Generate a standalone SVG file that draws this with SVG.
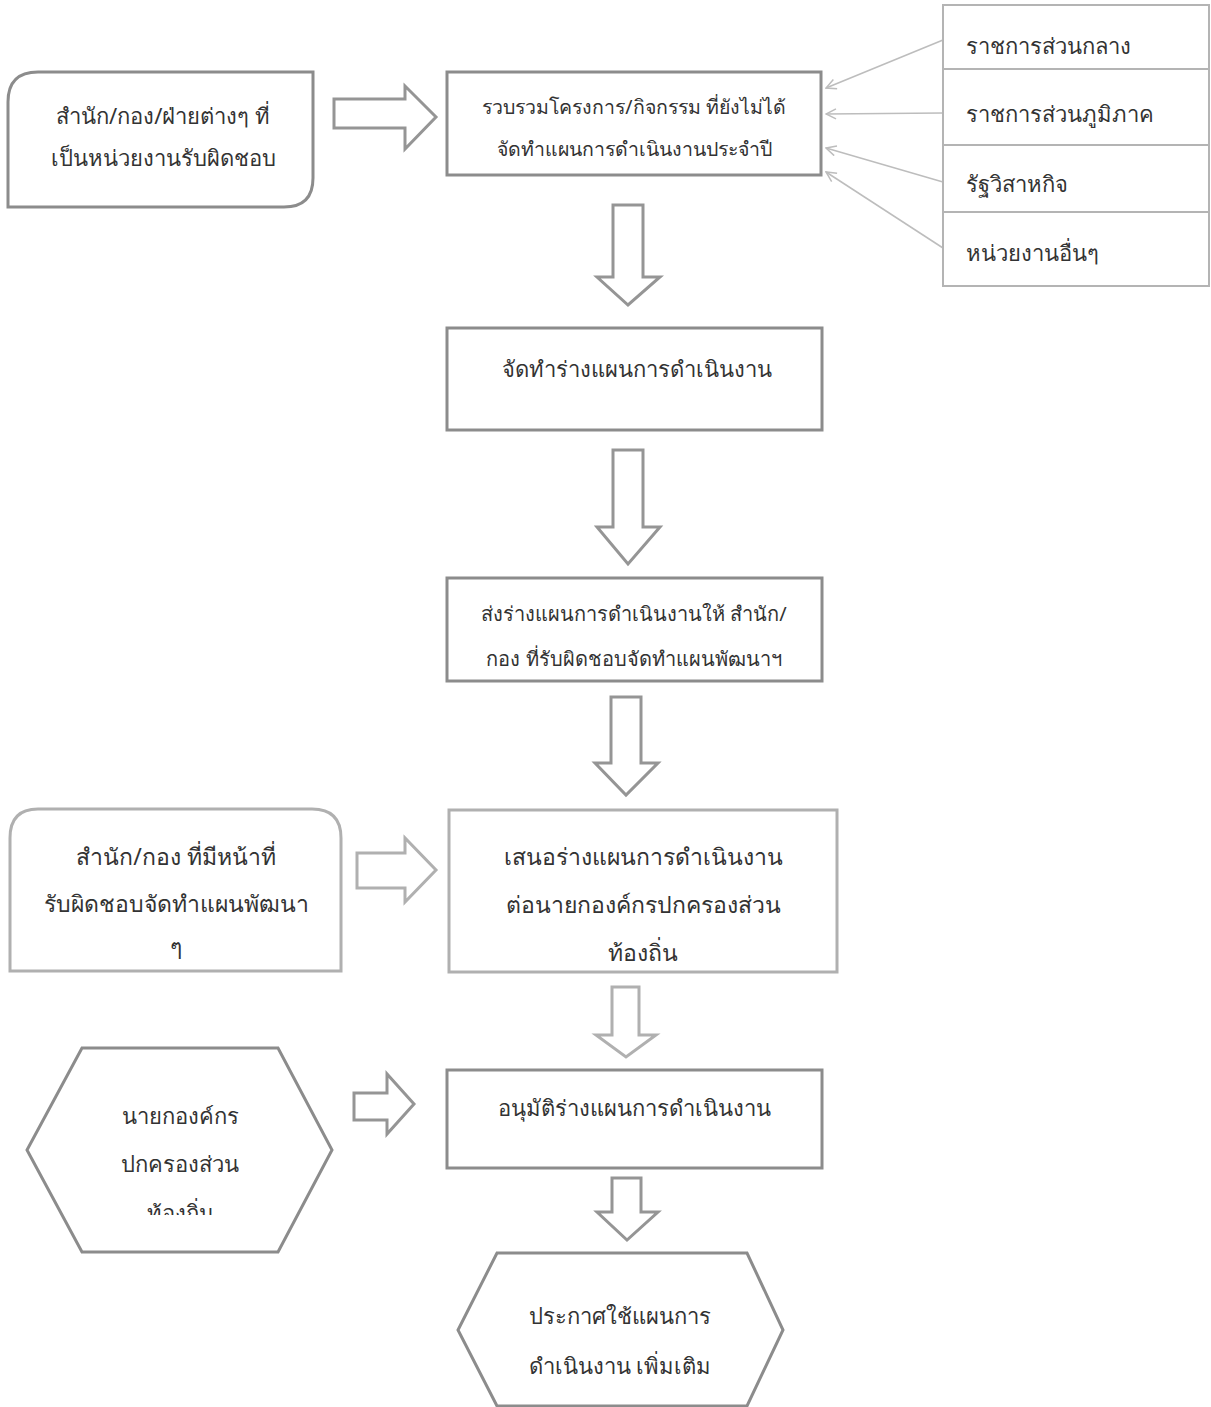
<svg xmlns="http://www.w3.org/2000/svg" width="1211" height="1407" viewBox="0 0 1211 1407">
<style>
.box{fill:#fff;stroke:#8c8c8c;stroke-width:3}
.lst{fill:#fff;stroke:#b4b4b4;stroke-width:2}
.arw{fill:#fff;stroke:#959595;stroke-width:3;stroke-linejoin:miter}
.arwl{fill:#fff;stroke:#b0b0b0;stroke-width:3}
.con{fill:none;stroke:#bdbdbd;stroke-width:1.5}
text{font-family:"Noto Sans","DejaVu Sans",sans-serif;fill:#333;text-anchor:middle}
.t22{font-size:22px}
.t23{font-size:23px}
.t20{font-size:20px}
.t19{font-size:19.5px}
.tl{text-anchor:start}
</style>
<defs>
<marker id="ah" viewBox="0 0 12 12" refX="11" refY="6" markerWidth="12" markerHeight="12" markerUnits="userSpaceOnUse" orient="auto">
<path d="M1,1 L11,6 L1,11" fill="none" stroke="#bdbdbd" stroke-width="1.5"/>
</marker>
<clipPath id="hexclip"><rect x="0" y="1040" width="400" height="175"/></clipPath>
</defs>

<g id="connectors">
<path class="con" d="M943,40 L826,88" marker-end="url(#ah)"/>
<path class="con" d="M943,113 L826,114" marker-end="url(#ah)"/>
<path class="con" d="M943,182 L826,148" marker-end="url(#ah)"/>
<path class="con" d="M943,248 L826,172" marker-end="url(#ah)"/>
<path id="arrow-r1" class="arw" d="M334,99 L405,99 L405,86 L436,117 L405,149 L405,128 L334,128 Z"/>
<path id="arrow-r2" class="arwl" d="M357,853 L405,853 L405,838 L436,870 L405,902 L405,888 L357,888 Z"/>
<path id="arrow-r3" class="arw" d="M354,1093 L387,1093 L387,1074 L414,1104 L387,1134 L387,1120 L354,1120 Z"/>
<path id="arrow-d1" class="arw" d="M613,205 L643,205 L643,277 L660,277 L628,305 L597,277 L613,277 Z"/>
<path id="arrow-d2" class="arw" d="M613,450 L643,450 L643,527 L660,527 L628,564 L597,527 L613,527 Z"/>
<path id="arrow-d3" class="arw" d="M611,697 L641,697 L641,763 L658,763 L626,795 L595,763 L611,763 Z"/>
<path id="arrow-d4" class="arwl" d="M612,987 L639,987 L639,1035 L656,1035 L626,1057 L596,1035 L612,1035 Z"/>
<path id="arrow-d5" class="arw" d="M612,1178 L641,1178 L641,1212 L658,1212 L627,1240 L597,1212 L612,1212 Z"/>
</g>

<g id="node-offices">
<path class="box" d="M38,72 L313,72 L313,178 Q313,207 284,207 L8,207 L8,102 Q8,72 38,72 Z"/>
<text class="t22" x="163" y="124">สำนัก/กอง/ฝ่ายต่างๆ ที่</text>
<text class="t22" x="163" y="166">เป็นหน่วยงานรับผิดชอบ</text>
</g>

<g id="node-collect">
<rect class="box" x="447" y="72" width="374" height="103"/>
<text class="t19" x="634" y="114">รวบรวมโครงการ/กิจกรรม ที่ยังไม่ได้</text>
<text class="t19" x="634" y="156">จัดทำแผนการดำเนินงานประจำปี</text>
</g>

<g id="node-central">
<rect class="lst" x="943" y="5" width="266" height="64"/>
<text class="t22 tl" x="966" y="54">ราชการส่วนกลาง</text>
</g>
<g id="node-regional">
<rect class="lst" x="943" y="69" width="266" height="76"/>
<text class="t22 tl" x="966" y="122">ราชการส่วนภูมิภาค</text>
</g>
<g id="node-stateenterprise">
<rect class="lst" x="943" y="145" width="266" height="67"/>
<text class="t22 tl" x="966" y="192">รัฐวิสาหกิจ</text>
</g>
<g id="node-others">
<rect class="lst" x="943" y="212" width="266" height="74"/>
<text class="t22 tl" x="966" y="261">หน่วยงานอื่นๆ</text>
</g>

<g id="node-draft">
<rect class="box" x="447" y="328" width="375" height="102"/>
<text class="t22" x="637" y="377">จัดทำร่างแผนการดำเนินงาน</text>
</g>

<g id="node-send">
<rect class="box" x="447" y="578" width="375" height="103"/>
<text class="t20" x="634" y="621">ส่งร่างแผนการดำเนินงานให้ สำนัก/</text>
<text class="t20" x="634" y="666">กอง ที่รับผิดชอบจัดทำแผนพัฒนาฯ</text>
</g>

<g id="node-planunits">
<path class="arwl" d="M38,809 L312,809 Q341,809 341,838 L341,971 L10,971 L10,838 Q10,809 38,809 Z"/>
<text class="t23" x="176" y="865">สำนัก/กอง ที่มีหน้าที่</text>
<text class="t23" x="176" y="912">รับผิดชอบจัดทำแผนพัฒนา</text>
<text class="t23" x="176" y="955">ๆ</text>
</g>

<g id="node-propose">
<rect class="arwl" x="449" y="810" width="388" height="162"/>
<text class="t23" x="643" y="865">เสนอร่างแผนการดำเนินงาน</text>
<text class="t23" x="643" y="913">ต่อนายกองค์กรปกครองส่วน</text>
<text class="t23" x="643" y="961">ท้องถิ่น</text>
</g>

<g id="node-mayor">
<path class="box" d="M82,1048 L278,1048 L332,1150 L278,1252 L82,1252 L27,1150 Z"/>
<g clip-path="url(#hexclip)">
<text class="t22" x="180" y="1124">นายกองค์กร</text>
<text class="t22" x="180" y="1172">ปกครองส่วน</text>
<text class="t22" x="180" y="1221">ท้องถิ่น</text>
</g>
</g>

<g id="node-approve">
<rect class="box" x="447" y="1070" width="375" height="98"/>
<text class="t22" x="634" y="1116">อนุมัติร่างแผนการดำเนินงาน</text>
</g>

<g id="node-announce">
<path class="box" d="M497,1253 L747,1253 L783,1330 L747,1406 L497,1406 L458,1330 Z"/>
<text class="t22" x="620" y="1324">ประกาศใช้แผนการ</text>
<text class="t22" x="620" y="1374">ดำเนินงาน เพิ่มเติม</text>
</g>
</svg>
